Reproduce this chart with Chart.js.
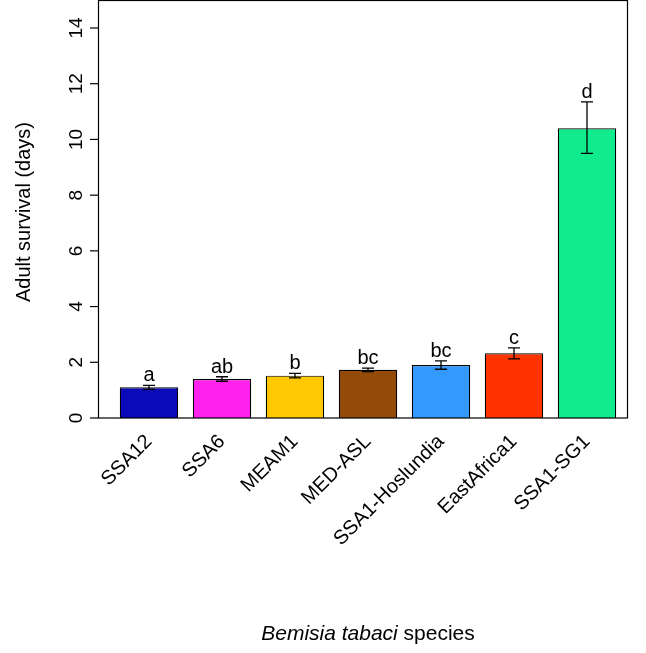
<!DOCTYPE html>
<html><head>
<script src="https://cdn.jsdelivr.net/npm/chart.js@4"></script>
<style>body{margin:0;background:#fff}#wrap{width:646px;height:653px}</style>
</head><body>
<div id="wrap"><canvas id="c"></canvas></div>
<script>
const species = ['SSA12', 'SSA6', 'MEAM1', 'MED-ASL', 'SSA1-Hoslundia', 'EastAfrica1', 'SSA1-SG1']
const survival = [1.1, 1.4, 1.52, 1.73, 1.9, 2.32, 10.4]
const errLow = [1.03, 1.32, 1.44, 1.67, 1.75, 2.12, 9.5]
const errHigh = [1.17, 1.48, 1.6, 1.79, 2.05, 2.52, 11.35]
const letters = ['a', 'ab', 'b', 'bc', 'bc', 'c', 'd']
const colors = ['#0a0ab8', '#ff22ee', '#ffc800', '#944a08', '#3399ff', '#ff3300', '#10eb8e']
const yTicks = [0, 2, 4, 6, 8, 10, 12, 14]
const FONT = '"Liberation Sans", Arial, sans-serif'

// error bars, letters, box, y axis and titles
const extras = {
    id: 'extras',
    afterDatasetsDraw: (chart) => {
        const ctx = chart.ctx
        const x = chart.scales.x, y = chart.scales.y
        ctx.save()
        ctx.strokeStyle = '#000'
        ctx.lineWidth = 1.3
        ctx.fillStyle = '#000'
        ctx.font = '20px ' + FONT
        ctx.textAlign = 'center'
        ctx.textBaseline = 'alphabetic'
        species.forEach((s, i) => {
            const px = x.getPixelForValue(i)
            const lo = y.getPixelForValue(errLow[i]), hi = y.getPixelForValue(errHigh[i])
            ctx.beginPath()
            ctx.moveTo(px, lo); ctx.lineTo(px, hi)
            ctx.moveTo(px - 6, lo); ctx.lineTo(px + 6, lo)
            ctx.moveTo(px - 6, hi); ctx.lineTo(px + 6, hi)
            ctx.stroke()
            ctx.fillText(letters[i], px, hi - 4)
        })
        // box
        ctx.lineWidth = 1.2
        ctx.strokeRect(98.5, 0.5, 529, y.getPixelForValue(0) - 0.5)
        // y ticks
        ctx.font = '19px ' + FONT
        yTicks.forEach(v => {
            const py = y.getPixelForValue(v)
            ctx.beginPath(); ctx.moveTo(98, py); ctx.lineTo(90, py); ctx.stroke()
            ctx.save()
            ctx.translate(80, py)
            ctx.rotate(-Math.PI / 2)
            ctx.textBaseline = 'bottom'
            ctx.fillText(String(v), 0, 6)
            ctx.restore()
        })
        // y title
        ctx.save()
        ctx.translate(30, 212)
        ctx.rotate(-Math.PI / 2)
        ctx.font = '20px ' + FONT
        ctx.fillText('Adult survival (days)', 0, 0)
        ctx.restore()
        // x title
        const a = 'Bemisia tabaci'
        ctx.font = '21px ' + FONT
        const b = ' species'
        const wb = ctx.measureText(b).width
        ctx.font = 'italic 21px ' + FONT
        const wa = ctx.measureText(a).width
        const start = 368 - (wa + wb) / 2
        ctx.textAlign = 'left'
        ctx.fillText(a, start, 640)
        ctx.font = '21px ' + FONT
        ctx.fillText(b, start + wa, 640)
        ctx.restore()
    }
}

new Chart(document.getElementById('c'), {
    type: 'bar',
    data: {
        labels: species,
        datasets: [{
            data: survival,
            backgroundColor: colors,
            borderColor: '#000',
            borderWidth: 1.2,
            barPercentage: 0.8,
            categoryPercentage: 1,
        }]
    },
    plugins: [extras],
    options: {
        responsive: true,
        maintainAspectRatio: false,
        animation: false,
        layout: { padding: { left: 112.5, right: 22.5, top: 28, bottom: 0 } },
        plugins: { legend: { display: false }, tooltip: { enabled: false } },
        scales: {
            x: {
                grid: { display: false },
                border: { display: false },
                ticks: {
                    minRotation: 45, maxRotation: 45, color: '#000', padding: 4,
                    font: { size: 20, family: FONT },
                },
                afterFit: (s) => { s.height = 235 },
            },
            y: {
                display: false,
                min: 0,
                max: 14,
            }
        }
    }
})
</script>
</body></html>
